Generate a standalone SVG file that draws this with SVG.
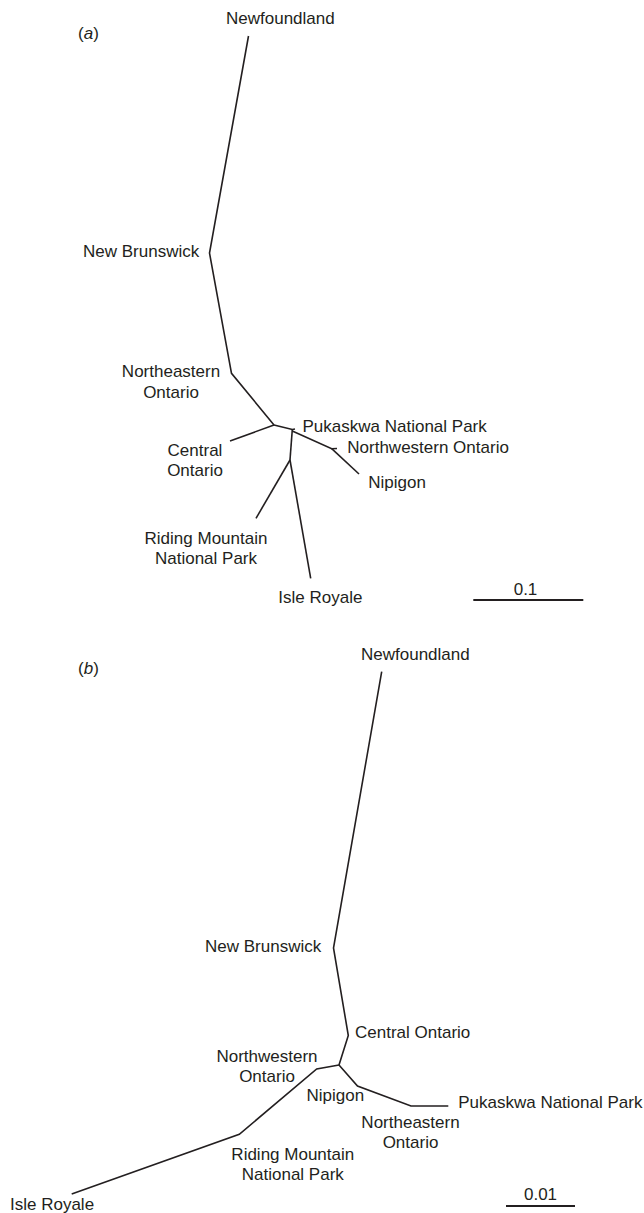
<svg xmlns="http://www.w3.org/2000/svg" width="644" height="1213" viewBox="0 0 644 1213">
<style>
text{font-family:"Liberation Sans",Arial,sans-serif;font-size:17px;fill:#231f20}
.m{text-anchor:middle}
.e{fill:none;stroke:#231f20;stroke-width:1.6;stroke-linecap:butt;stroke-linejoin:miter}
.s{fill:none;stroke:#231f20;stroke-width:2}
</style>
<rect width="644" height="1213" fill="#fff"/>
<g id="panel-a">
<text id="label-a" x="78" y="39">(<tspan font-style="italic">a</tspan>)</text>
<g id="connectors-a">
<path class="e" d="M248.5,36 L209.5,253 L231.5,373.3 L274,425"/>
<path class="e" d="M274,425 L230,441"/>
<path class="e" d="M274,425 L292.3,429.5 L295,429"/>
<path class="e" d="M292.3,429.5 L290,460"/>
<path class="e" d="M292.3,431 L331.7,448.7 L337,448.5"/>
<path class="e" d="M331.7,448.7 L359,474"/>
<path class="e" d="M290,460 L256,518.3"/>
<path class="e" d="M290,460 L310.7,578.3"/>
</g>
<g id="a-newfoundland"><text x="226" y="24">Newfoundland</text></g>
<g id="a-newbrunswick"><text x="83" y="257">New Brunswick</text></g>
<g id="a-northeastern"><text class="m" x="171" y="376.5">Northeastern</text><text class="m" x="171" y="398">Ontario</text></g>
<g id="a-central"><text class="m" x="195" y="456">Central</text><text class="m" x="195" y="476">Ontario</text></g>
<g id="a-pukaskwa"><text x="302.5" y="431.5">Pukaskwa National Park</text></g>
<g id="a-northwestern"><text x="347.3" y="453.3">Northwestern Ontario</text></g>
<g id="a-nipigon"><text x="368.3" y="488.3">Nipigon</text></g>
<g id="a-riding"><text class="m" x="206" y="543.5">Riding Mountain</text><text class="m" x="206" y="563.5">National Park</text></g>
<g id="a-isle"><text x="278.3" y="603.3">Isle Royale</text></g>
<g id="a-scale"><line class="s" x1="473.3" y1="600" x2="583.3" y2="600"/><text class="m" x="525.5" y="595">0.1</text></g>
</g>
<g id="panel-b">
<text id="label-b" x="78" y="674">(<tspan font-style="italic">b</tspan>)</text>
<g id="connectors-b">
<path class="e" d="M381.7,671.7 L333.5,948 L348.3,1035.5 L339,1065"/>
<path class="e" d="M339,1065 L316.7,1069 L239.3,1134.3 L71.7,1194"/>
<path class="e" d="M339,1065 L357.5,1086 L411,1106 L448.3,1106"/>
</g>
<g id="b-newfoundland"><text x="361" y="659.5">Newfoundland</text></g>
<g id="b-newbrunswick"><text x="205" y="952">New Brunswick</text></g>
<g id="b-central"><text x="355" y="1038">Central Ontario</text></g>
<g id="b-northwestern"><text class="m" x="267" y="1061.7">Northwestern</text><text class="m" x="267" y="1081.7">Ontario</text></g>
<g id="b-nipigon"><text x="306.5" y="1100.5">Nipigon</text></g>
<g id="b-northeastern"><text class="m" x="410.5" y="1128.3">Northeastern</text><text class="m" x="410.5" y="1148.3">Ontario</text></g>
<g id="b-pukaskwa"><text x="458.2" y="1108.3">Pukaskwa National Park</text></g>
<g id="b-riding"><text class="m" x="292.8" y="1159.5">Riding Mountain</text><text class="m" x="292.8" y="1180.3">National Park</text></g>
<g id="b-isle"><text x="10" y="1210">Isle Royale</text></g>
<g id="b-scale"><line class="s" x1="506" y1="1206" x2="575" y2="1206"/><text class="m" x="540.5" y="1200">0.01</text></g>
</g>
</svg>
